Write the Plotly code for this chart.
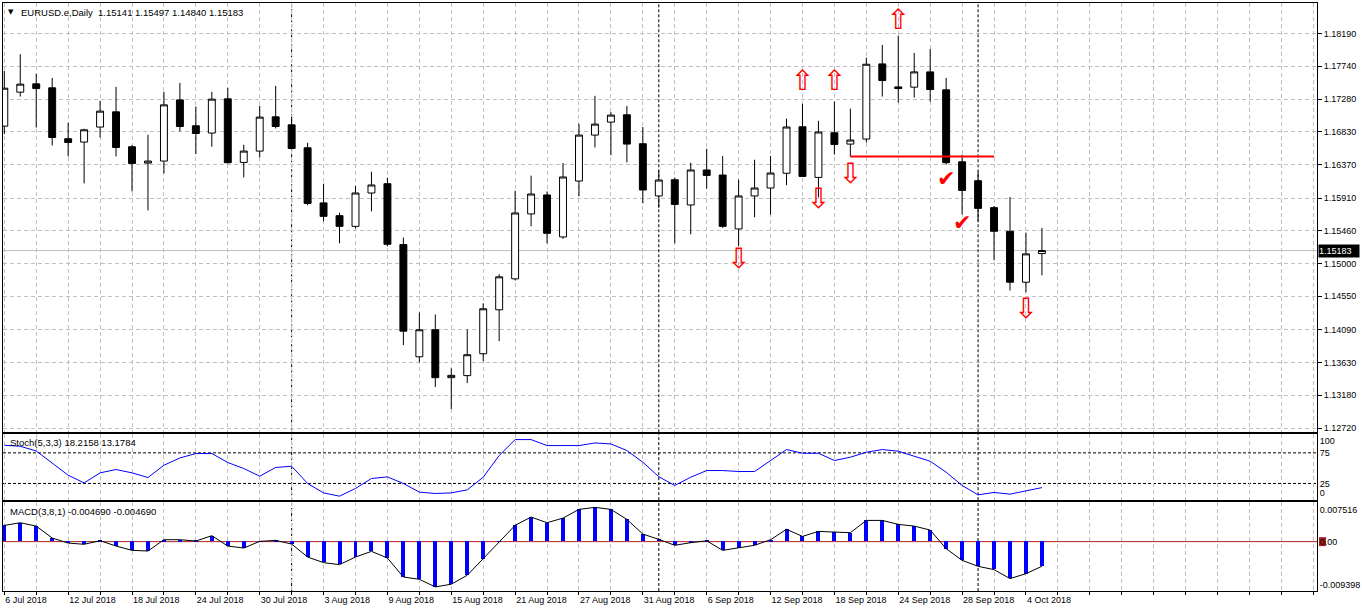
import datetime as dt
import plotly.graph_objects as go

# ---------------- data ----------------
dates = [
    "2018-07-06", "2018-07-09", "2018-07-10", "2018-07-11", "2018-07-12", "2018-07-13",
    "2018-07-16", "2018-07-17", "2018-07-18", "2018-07-19", "2018-07-20",
    "2018-07-23", "2018-07-24", "2018-07-25", "2018-07-26", "2018-07-27",
    "2018-07-30", "2018-07-31", "2018-08-01", "2018-08-02", "2018-08-03",
    "2018-08-06", "2018-08-07", "2018-08-08", "2018-08-09", "2018-08-10",
    "2018-08-13", "2018-08-14", "2018-08-15", "2018-08-16", "2018-08-17",
    "2018-08-20", "2018-08-21", "2018-08-22", "2018-08-23", "2018-08-24",
    "2018-08-27", "2018-08-28", "2018-08-29", "2018-08-30", "2018-08-31",
    "2018-09-03", "2018-09-04", "2018-09-05", "2018-09-06", "2018-09-07",
    "2018-09-10", "2018-09-11", "2018-09-12", "2018-09-13", "2018-09-14",
    "2018-09-17", "2018-09-18", "2018-09-19", "2018-09-20", "2018-09-21",
    "2018-09-24", "2018-09-25", "2018-09-26", "2018-09-27", "2018-09-28",
    "2018-10-01", "2018-10-02", "2018-10-03", "2018-10-04", "2018-10-05",
]

opens = [1.16908, 1.17379, 1.17494, 1.17439, 1.16733, 1.16687, 1.16895, 1.17106, 1.16622, 1.16396,
         1.16424, 1.17272, 1.16913, 1.16812, 1.17286, 1.16405, 1.16562, 1.17037, 1.16926, 1.16608,
         1.15844, 1.15667, 1.15519, 1.15981, 1.16110, 1.15266, 1.13711, 1.14085, 1.13421, 1.13449,
         1.13753, 1.14362, 1.14791, 1.15691, 1.15954, 1.15372, 1.16147, 1.16784, 1.16964, 1.17065,
         1.16664, 1.15940, 1.16165, 1.15815, 1.16300, 1.16230, 1.15483, 1.15940, 1.16050, 1.16255,
         1.16899, 1.16197, 1.16816, 1.16659, 1.16729, 1.17771, 1.17452, 1.17448, 1.17660, 1.17411,
         1.16414, 1.16151, 1.15778, 1.15450, 1.14744, 1.15141]
highs = [1.17674, 1.17905, 1.17632, 1.17577, 1.16954, 1.16871, 1.17259, 1.17452, 1.16645, 1.16788,
         1.17383, 1.17508, 1.17180, 1.17383, 1.17439, 1.16650, 1.17189, 1.17466, 1.17037, 1.16677,
         1.16110, 1.15708, 1.16078, 1.16276, 1.16193, 1.15363, 1.14325, 1.14297, 1.13550, 1.14089,
         1.14453, 1.14855, 1.16013, 1.16221, 1.16003, 1.16396, 1.16940, 1.17328, 1.17102, 1.17189,
         1.16895, 1.16290, 1.16197, 1.16401, 1.16594, 1.16493, 1.16165, 1.16442, 1.16493, 1.17012,
         1.17217, 1.16982, 1.17248, 1.17151, 1.17858, 1.18034, 1.18162, 1.17923, 1.17978, 1.17577,
         1.16511, 1.16280, 1.15801, 1.15926, 1.15432, 1.15497]
lows = [1.16798, 1.17318, 1.16889, 1.16640, 1.16488, 1.16114, 1.16751, 1.16488, 1.16003, 1.15740,
        1.16253, 1.16834, 1.16521, 1.16622, 1.16387, 1.16197, 1.16474, 1.16875, 1.16590, 1.15812,
        1.15588, 1.15284, 1.15491, 1.15727, 1.15242, 1.13872, 1.13633, 1.13291, 1.12986, 1.13346,
        1.13651, 1.13927, 1.14767, 1.15519, 1.15284, 1.15345, 1.15934, 1.16612, 1.16504, 1.16405,
        1.15837, 1.15778, 1.15284, 1.15408, 1.16041, 1.15497, 1.15242, 1.15644, 1.15681, 1.16089,
        1.16207, 1.15922, 1.16514, 1.16488, 1.16681, 1.17318, 1.17235, 1.17304, 1.17249, 1.16373,
        1.15685, 1.15588, 1.15048, 1.14629, 1.14606, 1.14840]
closes = [1.17434, 1.17490, 1.17429, 1.16751, 1.16681, 1.16857, 1.17116, 1.16612, 1.16391, 1.16424,
          1.17203, 1.16903, 1.16806, 1.17282, 1.16401, 1.16562, 1.17033, 1.16903, 1.16598, 1.15837,
          1.15657, 1.15519, 1.15981, 1.16092, 1.15270, 1.14066, 1.14085, 1.13421, 1.13453, 1.13739,
          1.14376, 1.14819, 1.15704, 1.15967, 1.15422, 1.16203, 1.16784, 1.16936, 1.17061, 1.16659,
          1.16023, 1.16161, 1.15823, 1.16300, 1.16225, 1.15519, 1.15940, 1.16050, 1.16258, 1.16896,
          1.16211, 1.16827, 1.16654, 1.16715, 1.17766, 1.17540, 1.17429, 1.17660, 1.17415, 1.16401,
          1.16017, 1.15768, 1.15450, 1.14744, 1.15137, 1.15183]

stoch_main = [87.4, 85.8, 78.1, 57.6, 38.5, 25.9, 42.3, 47.8, 42.3, 34.7,
              54.8, 66.7, 73.9, 73.9, 59.2, 49.4, 36.9, 51.1, 53.2, 25.0,
              9.6, 4.2, 16.8, 33.1, 35.7, 25.0, 10.8, 8.6, 9.6, 14.5,
              35.2, 70.6, 96.7, 96.7, 86.9, 86.9, 86.9, 91.2, 89.6, 78.8,
              59.7, 36.0, 21.7, 35.2, 46.1, 46.1, 44.5, 44.5, 62.5, 80.4,
              74.4, 74.4, 62.5, 67.9, 76.0, 80.4, 77.7, 69.0, 61.3, 43.4,
              21.7, 6.4, 10.3, 7.5, 12.4, 18.2158]
stoch_signal_last = 13.1784
stoch_levels = [75, 25]

macd_main = [0.00309, 0.00360, 0.00296, 0.00068, -0.00027, -0.00051, 0.00018, -0.00084, -0.00166, -0.00179,
             0.00037, 0.00037, 0.00011, 0.00113, -0.00084, -0.00122, 0.00005, 0.00024, -0.00046, -0.00293,
             -0.00400, -0.00438, -0.00293, -0.00185, -0.00312, -0.00673, -0.00717, -0.00862, -0.00811, -0.00640,
             -0.00324, -0.00008, 0.00310, 0.00468, 0.00360, 0.00448, 0.00614, 0.00652, 0.00614, 0.00423,
             0.00144, 0.00043, -0.00070, -0.00020, 0.00015, -0.00166, -0.00122, -0.00070, 0.00037, 0.00234,
             0.00100, 0.00195, 0.00182, 0.00170, 0.00404, 0.00404, 0.00328, 0.00296, 0.00220, -0.00134,
             -0.00356, -0.00470, -0.00533, -0.00704, -0.00610, -0.004690]
macd_signal = list(macd_main)   # MACD(3,8,1): signal SMA(1) equals MACD
macd_scale = [-0.009398, 0.007516]

price_ticks = ["1.18190", "1.17740", "1.17280", "1.16830", "1.16370", "1.15910", "1.15460",
               "1.15000", "1.14550", "1.14090", "1.13630", "1.13180", "1.12720"]

date_labels = ["6 Jul 2018", "12 Jul 2018", "18 Jul 2018", "24 Jul 2018", "30 Jul 2018",
               "3 Aug 2018", "9 Aug 2018", "15 Aug 2018", "21 Aug 2018", "27 Aug 2018",
               "31 Aug 2018", "6 Sep 2018", "12 Sep 2018", "18 Sep 2018", "24 Sep 2018",
               "28 Sep 2018", "4 Oct 2018"]

# signal objects drawn on the chart
up_arrow_bars = [50, 52, 56]
up_arrow_prices = [1.17549, 1.17549, 1.18400]
down_arrow_bars = [46, 51, 53, 64]
down_arrow_prices = [1.15079, 1.15909, 1.16255, 1.14387]
check_bars = [59, 60]
check_prices = [1.16151, 1.15542]
level_bars = [53, 62]
level_price = 1.16488

# ---------------- derived ----------------
idx = list(range(len(dates)))
date_objs = [dt.date.fromisoformat(d) for d in dates]
label_pos = [date_objs.index(dt.datetime.strptime(s, "%d %b %Y").date()) for s in date_labels]
sep_pos = [i for i in range(1, len(date_objs)) if date_objs[i].month != date_objs[i - 1].month]
grid_pos = list(range(0, 84, 2))
tick_text = [date_labels[label_pos.index(p)] if p in label_pos else "" for p in grid_pos]

# ---------------- geometry ----------------
W, H = 1362, 612
ML, MR, MT, MB = 2, 43, 2, 21
PH = H - MT - MB
PW = W - ML - MR
BAR_PX = 16.0
FIRST_BAR_PX = 3.3


def yfrac(px):
    return (H - MB - px) / PH


x0 = -(FIRST_BAR_PX - ML) / BAR_PX
x1 = x0 + PW / BAR_PX

main_top, main_bot = 2, 432
st_top, st_bot = 434, 500
md_top, md_bot = 502, 591

main_range = [1.12664, 1.18615]
st_range = [-2.3, 105.4]
md_range = macd_scale


def px_to_val(px, top, bot, rng):
    return rng[1] - (px - top) / (bot - top) * (rng[1] - rng[0])


st_tickvals = [px_to_val(440.7, st_top, st_bot, st_range), 75, 25, px_to_val(492.7, st_top, st_bot, st_range)]
st_ticktext = ["100", "75", "25", "0"]
md_tickvals = [px_to_val(509.3, md_top, md_bot, md_range), 0, px_to_val(585.0, md_top, md_bot, md_range)]
md_ticktext = [f"{macd_scale[1]:.6f}", "0.00", f"{macd_scale[0]:.6f}"]

FONT = "Liberation Sans"
GRID = "#c0c0c0"

# glyph centring correction (text baseline sits a few px high)
price_per_px = (main_range[1] - main_range[0]) / (main_bot - main_top)
GLYPH_SHIFT = 3 * price_per_px

fig = go.Figure()

fig.add_trace(go.Candlestick(
    x=idx, open=opens, high=highs, low=lows, close=closes,
    increasing=dict(line=dict(color="black", width=1), fillcolor="white"),
    decreasing=dict(line=dict(color="black", width=1), fillcolor="black"),
    whiskerwidth=0, xaxis="x", yaxis="y", showlegend=False, hoverinfo="skip"))

fig.add_trace(go.Scatter(x=level_bars, y=[level_price] * len(level_bars), mode="lines",
                         line=dict(color="#ff0000", width=2), xaxis="x", yaxis="y",
                         showlegend=False, hoverinfo="skip"))

fig.add_trace(go.Scatter(x=up_arrow_bars, y=[p - GLYPH_SHIFT for p in up_arrow_prices], mode="text",
                         text=["\u21e7"] * len(up_arrow_bars),
                         textfont=dict(family="DejaVu Sans", size=28, color="#ff0000"), cliponaxis=False,
                         xaxis="x", yaxis="y", showlegend=False, hoverinfo="skip"))
fig.add_trace(go.Scatter(x=down_arrow_bars, y=[p - GLYPH_SHIFT for p in down_arrow_prices], mode="text",
                         text=["\u21e9"] * len(down_arrow_bars),
                         textfont=dict(family="DejaVu Sans", size=28, color="#ff0000"), cliponaxis=False,
                         xaxis="x", yaxis="y", showlegend=False, hoverinfo="skip"))
fig.add_trace(go.Scatter(x=check_bars, y=check_prices, mode="text", text=["\u2714"] * len(check_bars),
                         textfont=dict(family="DejaVu Sans", size=22, color="#ff0000"), cliponaxis=False,
                         xaxis="x", yaxis="y", showlegend=False, hoverinfo="skip"))

fig.add_trace(go.Scatter(x=idx, y=stoch_main, mode="lines", line=dict(color="#0000ff", width=1),
                         xaxis="x2", yaxis="y2", showlegend=False, hoverinfo="skip"))

fig.add_trace(go.Bar(x=idx, y=macd_main, width=0.25, marker=dict(color="#0000ff", line=dict(width=0)),
                     xaxis="x3", yaxis="y3", showlegend=False, hoverinfo="skip"))
fig.add_trace(go.Scatter(x=idx, y=macd_signal, mode="lines", line=dict(color="black", width=1),
                         xaxis="x3", yaxis="y3", showlegend=False, hoverinfo="skip"))

xcommon = dict(range=[x0, x1], showline=True, mirror=True, linecolor="black", linewidth=1,
               showgrid=True, gridcolor=GRID, griddash="4px,3px", gridwidth=1,
               tickmode="array", tickvals=grid_pos, zeroline=False, fixedrange=True)
ycommon = dict(showline=True, mirror=True, linecolor="black", linewidth=1, side="right",
               zeroline=False, fixedrange=True, tickfont=dict(family=FONT, size=9, color="black"))

shapes = []
# current price line
shapes.append(dict(type="line", xref="x domain", yref="y", x0=0, x1=1, y0=closes[-1], y1=closes[-1],
                   line=dict(color="#c0c0c0", width=1), layer="below"))
# stoch levels
for lv in stoch_levels:
    shapes.append(dict(type="line", xref="x2 domain", yref="y2", x0=0, x1=1, y0=lv, y1=lv,
                       line=dict(color="black", width=1, dash="3px,2px"), layer="below"))
# MACD zero level
shapes.append(dict(type="line", xref="x3 domain", yref="y3", x0=0, x1=1, y0=0, y1=0,
                   line=dict(color="#b22222", width=1), layer="below"))
# period separators
for p in sep_pos:
    for xr, yr in (("x", "y domain"), ("x2", "y2 domain"), ("x3", "y3 domain")):
        shapes.append(dict(type="line", xref=xr, yref=yr, x0=p, x1=p, y0=0, y1=1,
                           line=dict(color="black", width=1, dash="3px,2px"), layer="below"))
# zero-level label box
md_px = (md_range[1] - md_range[0]) / (md_bot - md_top)
shapes.append(dict(type="rect", xref="paper", yref="y3", x0=(1321 - ML) / PW, x1=(1328 - ML) / PW,
                   y0=-4.5 * md_px, y1=4.5 * md_px, fillcolor="#a52222", line=dict(width=0), layer="below"))

annotations = [
    dict(xref="paper", yref="paper", x=(5.5 - ML) / PW, y=yfrac(11.5), text="\u25bc", showarrow=False,
         xanchor="left", yanchor="middle", font=dict(family="DejaVu Sans", size=7, color="black")),
    dict(xref="paper", yref="paper", x=(18 - ML) / PW, y=yfrac(11.5),
         text=f"EURUSD.e,Daily \u00a0{opens[-1]:.5f} {highs[-1]:.5f} {lows[-1]:.5f} {closes[-1]:.5f}",
         showarrow=False, xanchor="left", yanchor="middle", font=dict(family=FONT, size=9.5, color="black")),
    dict(xref="paper", yref="paper", x=(7 - ML) / PW, y=yfrac(442.5),
         text=f"Stoch(5,3,3) {stoch_main[-1]:.4f} {stoch_signal_last:.4f}",
         showarrow=False, xanchor="left", yanchor="middle", font=dict(family=FONT, size=9.5, color="black")),
    dict(xref="paper", yref="paper", x=(7 - ML) / PW, y=yfrac(511.5),
         text=f"MACD(3,8,1) {macd_main[-1]:.6f} {macd_signal[-1]:.6f}",
         showarrow=False, xanchor="left", yanchor="middle", font=dict(family=FONT, size=9.5, color="black")),
    dict(xref="paper", yref="y", x=1, y=closes[-1], text=f"{closes[-1]:.5f}", showarrow=False,
         xanchor="left", yanchor="middle", xshift=1, bgcolor="black", width=40, height=12, align="left",
         borderpad=0, font=dict(family=FONT, size=9, color="white")),
]

fig.update_layout(
    width=W, height=H, margin=dict(l=ML, r=MR, t=MT, b=MB, pad=0),
    paper_bgcolor="white", plot_bgcolor="white", hovermode=False, showlegend=False,
    boxgap=0.38, bargap=0,
    xaxis=dict(**xcommon, anchor="y", showticklabels=False, ticks="", rangeslider=dict(visible=False)),
    xaxis2=dict(**xcommon, anchor="y2", matches="x", showticklabels=False, ticks=""),
    xaxis3=dict(**xcommon, anchor="y3", matches="x", ticktext=tick_text, showticklabels=True,
                ticks="outside", ticklen=3, tickcolor="black", ticklabelposition="outside right",
                tickfont=dict(family=FONT, size=9, color="black")),
    yaxis=dict(**ycommon, domain=[yfrac(main_bot), yfrac(main_top)], range=main_range, anchor="x",
               tickmode="array", tickvals=[float(t) for t in price_ticks], ticktext=price_ticks,
               ticks="outside", ticklen=4, tickcolor="black",
               showgrid=True, gridcolor=GRID, griddash="4px,3px", gridwidth=1),
    yaxis2=dict(**ycommon, domain=[yfrac(st_bot), yfrac(st_top)], range=st_range, anchor="x2",
                tickmode="array", tickvals=st_tickvals, ticktext=st_ticktext, ticks="", showgrid=False),
    yaxis3=dict(**ycommon, domain=[yfrac(md_bot), yfrac(md_top)], range=md_range, anchor="x3",
                tickmode="array", tickvals=md_tickvals, ticktext=md_ticktext, ticks="", showgrid=False),
    shapes=shapes, annotations=annotations,
)

fig.write_html("out.html")
